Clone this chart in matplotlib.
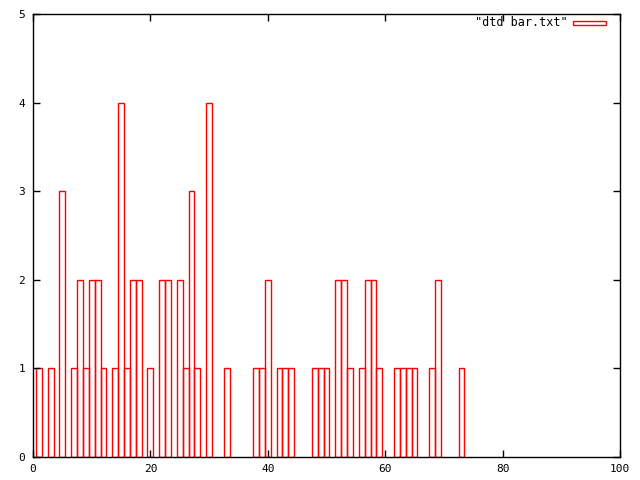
import matplotlib
matplotlib.use('Agg')
import matplotlib.pyplot as plt
from matplotlib.patches import Rectangle

# counts per bin
bins = [1, 3, 5, 7, 8, 9, 10, 11, 12, 14, 15, 16, 17, 18, 20, 22, 23, 25, 26, 27,
        28, 30, 33, 38, 39, 40, 42, 43, 44, 48, 49, 50, 52, 53, 54, 56, 57, 58, 59,
        62, 63, 64, 65, 68, 69, 73]
counts = [1, 1, 3, 1, 2, 1, 2, 2, 1, 1, 4, 1, 2, 2, 1, 2, 2, 2, 1, 3,
          1, 4, 1, 1, 1, 2, 1, 1, 1, 1, 1, 1, 2, 2, 1, 1, 2, 2, 1,
          1, 1, 1, 1, 1, 2, 1]
xticks = [0, 20, 40, 60, 80, 100]
yticks = [0, 1, 2, 3, 4, 5]
label = '"dtd bar.txt"'

plt.rcParams['font.family'] = ['DejaVu Sans Mono']

fig = plt.figure(figsize=(6.4, 4.8), dpi=100)
ax = fig.add_axes([33 / 640, 1 - 457 / 480, 587 / 640, 443 / 480])

ax.bar(bins, counts, width=1, fill=False, edgecolor='red', linewidth=1)

ax.set_xlim(0, 100)
ax.set_ylim(0, 5)
ax.set_xticks(xticks)
ax.set_yticks(yticks)
ax.tick_params(direction='in', length=5, width=1, top=True, right=True,
               labelsize=8)
ax.tick_params(axis='x', pad=5)
ax.tick_params(axis='y', pad=5.5)
for s in ax.spines.values():
    s.set_linewidth(1)

# gnuplot-style key, top right
ax.text(0.911, 0.980, label, transform=ax.transAxes, ha='right', va='center',
        fontsize=8.5)
ax.add_patch(Rectangle((0.920, 0.975), 0.056, 0.010, transform=ax.transAxes,
                       fill=False, edgecolor='red', linewidth=1))

fig.savefig('out.png', dpi=100, facecolor='white')
